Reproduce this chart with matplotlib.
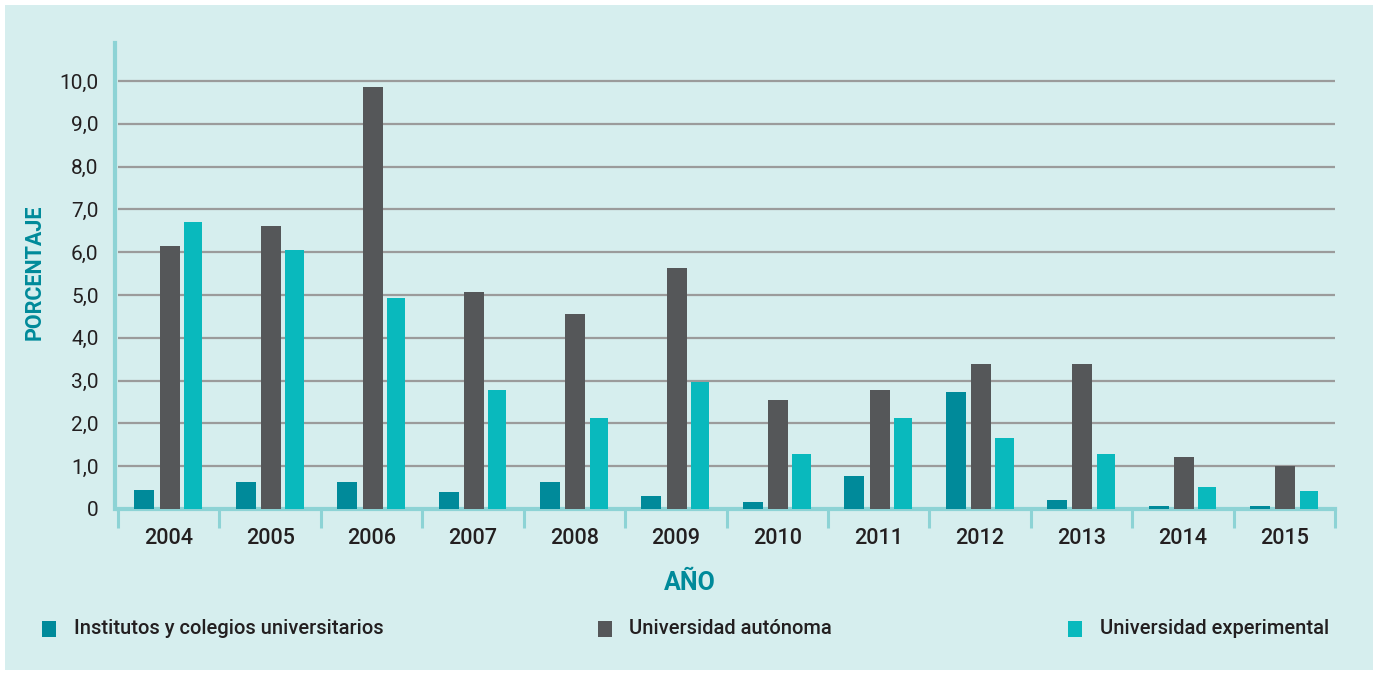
import matplotlib
matplotlib.use("Agg")
import matplotlib.pyplot as plt
from matplotlib.patches import Rectangle
import numpy as np

plt.rcParams['font.family'] = ['Roboto', 'DejaVu Sans']

years = ["2004", "2005", "2006", "2007", "2008", "2009", "2010", "2011", "2012", "2013", "2014", "2015"]
institutos = [0.44, 0.63, 0.63, 0.40, 0.63, 0.30, 0.16, 0.77, 2.73, 0.21, 0.07, 0.07]
autonoma = [6.14, 6.61, 9.86, 5.07, 4.56, 5.63, 2.55, 2.78, 3.39, 3.39, 1.21, 1.00]
experimental = [6.70, 6.05, 4.93, 2.78, 2.13, 2.97, 1.28, 2.13, 1.66, 1.28, 0.51, 0.42]
series_names = ["Institutos y colegios universitarios", "Universidad autónoma", "Universidad experimental"]
ytick_vals = [0, 1, 2, 3, 4, 5, 6, 7, 8, 9, 10]
ytick_labels = ["0", "1,0", "2,0", "3,0", "4,0", "5,0", "6,0", "7,0", "8,0", "9,0", "10,0"]

colors = ["#008a9a", "#555759", "#09b9bd"]
bg = "#d6eeee"
spine_c = "#8dd3d5"
text_c = "#231f20"

W, H = 1378, 674
fig = plt.figure(figsize=(W / 100, H / 100), dpi=100)
fig.patch.set_facecolor("white")
fig.patches.append(Rectangle((5 / W, 4 / H), 1368 / W, 665 / H, transform=fig.transFigure,
                             facecolor=bg, edgecolor="none", zorder=-10))

ax = fig.add_axes([118 / W, (H - 509) / H, (1335 - 118) / W, (509 - 43) / H])
ax.set_facecolor("none")
ax.set_zorder(1)

x = np.arange(len(years))
widths = [0.197, 0.197, 0.18]
offs = [-0.24, 0.01, 0.24]
for s, vals in enumerate([institutos, autonoma, experimental]):
    ax.bar(x + offs[s], vals, width=widths[s], color=colors[s], zorder=3, label=series_names[s])

ax.set_xlim(-0.5, len(years) - 0.5)
ax.set_ylim(0, 10.89)

for v in ytick_vals[1:]:
    ax.axhline(v, color="#9b9b9b", lw=1.6, zorder=1)

ax.set_yticks(ytick_vals, ytick_labels)
ax.tick_params(axis="y", length=0, pad=12, labelsize=15, labelcolor=text_c)

ax.set_xticks(x, years)
ax.set_xticks(np.arange(-0.5, len(years) + 0.5, 1.0), minor=True)
ax.tick_params(axis="x", which="major", length=0, pad=14, labelsize=15.5, labelcolor=text_c)
ax.tick_params(axis="x", which="minor", length=14, width=2.2, color=spine_c, direction="out")
for lab in ax.get_xticklabels() + ax.get_yticklabels():
    lab.set_fontweight("medium")

for sp in ["top", "right"]:
    ax.spines[sp].set_visible(False)
ax.spines["left"].set_color(spine_c)
ax.spines["left"].set_linewidth(3)
ax.spines["bottom"].set_color(spine_c)
ax.spines["bottom"].set_linewidth(3)
ax.spines["left"].set_position(("outward", 2))

fig.text(35 / W, 1 - 272 / H, "PORCENTAJE", rotation=90, ha="center", va="center",
         fontsize=15.5, fontweight="bold", color="#008a9a")
fig.text(690 / W, 1 - 583 / H, "AÑO", ha="center", va="center",
         fontsize=18, fontweight="bold", color="#008a9a")

leg_sq = [42, 598, 1068]
leg_tx = [74, 629, 1100]
for i, name in enumerate(series_names):
    fig.patches.append(Rectangle((leg_sq[i] / W, 1 - 637 / H), 14 / W, 16 / H,
                                 transform=fig.transFigure, facecolor=colors[i],
                                 edgecolor="none", zorder=2))
    fig.text(leg_tx[i] / W, 1 - 629 / H, name, ha="left", va="center",
             fontsize=14.5, color=text_c, fontweight="medium")

fig.savefig("out.png", dpi=100, facecolor=fig.get_facecolor())
